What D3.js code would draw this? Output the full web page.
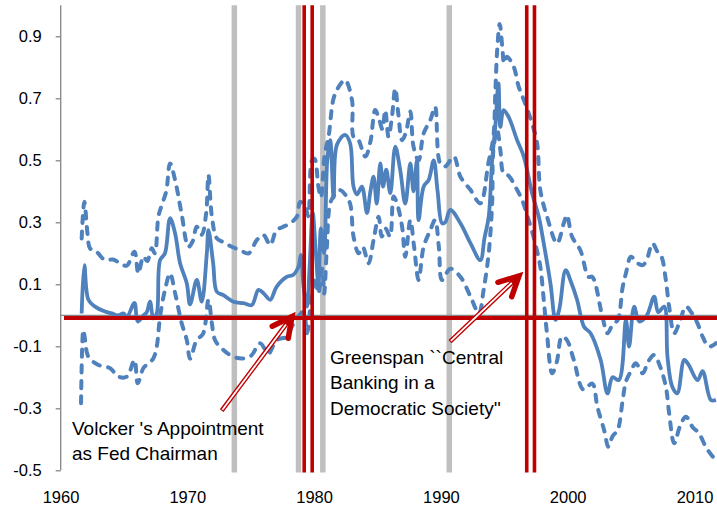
<!DOCTYPE html>
<html><head><meta charset="utf-8">
<script src="https://cdn.jsdelivr.net/npm/d3@7"></script>
<style>
html,body{margin:0;padding:0;background:#fff;}
svg text{font-family:"Liberation Sans",Arial,sans-serif;fill:#000;}
</style></head>
<body><svg id="c" width="717" height="508"></svg>
<script>
// ---- data ----
const yTicks = [-0.5,-0.3,-0.1,0.1,0.3,0.5,0.7,0.9];
const xTicks = [1960,1970,1980,1990,2000,2010];
const recessionBars = [1973.67,1978.73,1980.65,1990.62];
const eventLines = [1979.18,1979.81,1996.73,1997.34];

const midYears = [1961.63,1961.84,1962.16,1962.68,1963.47,1964.0,1964.5,1964.92,1965.2,1965.79,1966.05,1966.5,1966.76,1967.02,1967.28,1967.55,1967.81,1968.2,1968.6,1969.0,1969.39,1969.92,1970.18,1970.71,1971.1,1971.5,1971.63,1972.0,1972.29,1972.81,1973.6,1974.4,1975.05,1975.57,1976.0,1976.5,1977.0,1977.8,1978.3,1978.73,1978.92,1979.13,1979.4,1979.6,1979.85,1980.1,1980.3,1980.5,1980.75,1981.0,1981.23,1981.5,1981.76,1982.4,1982.8,1983.07,1983.35,1983.73,1984.13,1984.4,1984.65,1984.9,1985.18,1985.4,1985.65,1985.97,1986.36,1986.75,1987.15,1987.55,1987.8,1988.07,1988.2,1988.6,1989.0,1989.39,1989.7,1990.05,1990.3,1990.7,1991.5,1992.3,1993.07,1993.4,1993.73,1994.0,1994.25,1994.5,1994.65,1994.9,1995.3,1995.97,1996.5,1997.15,1997.68,1998.07,1998.6,1999.0,1999.3,1999.8,2000.2,2000.7,2001.25,2001.75,2002.56,2003.1,2003.5,2004.0,2004.55,2004.8,2005.2,2005.6,2006.2,2006.78,2007.1,2007.57,2007.83,2008.2,2008.6,2009.15,2009.5,2010.2,2010.6,2011.25,2011.65];
const midValues = [0.006,0.162,0.05,0.028,0.012,0.006,0.0,0.006,-0.005,0.04,-0.02,0.0,0.01,0.044,-0.01,0.006,0.178,0.2,0.313,0.264,0.168,0.103,0.035,0.114,0.044,0.2,0.275,0.168,0.076,0.065,0.044,0.039,0.033,0.082,0.07,0.05,0.092,0.124,0.13,0.157,0.195,0.092,0.028,0.15,0.33,0.2,0.1,0.28,0.2,0.5,0.565,0.38,0.55,0.582,0.555,0.415,0.39,0.415,0.33,0.4,0.447,0.36,0.49,0.415,0.47,0.394,0.544,0.469,0.36,0.49,0.4,0.5,0.307,0.415,0.437,0.5,0.4,0.297,0.3,0.34,0.297,0.232,0.178,0.25,0.318,0.5,0.608,0.748,0.608,0.662,0.64,0.565,0.512,0.394,0.318,0.232,0.103,-0.015,0.02,0.146,0.11,0.05,-0.037,-0.057,-0.144,-0.252,-0.2,-0.209,-0.015,-0.101,0.028,-0.02,0.0,0.06,0.01,0.028,-0.134,-0.23,-0.252,-0.144,-0.16,-0.209,-0.18,-0.273,-0.273];

const upYears = [1961.63,1961.84,1962.1,1962.29,1962.8,1963.47,1964.1,1964.66,1965.19,1965.79,1966.1,1966.5,1966.8,1967.16,1967.4,1967.68,1967.95,1968.3,1968.6,1969.0,1969.5,1970.05,1970.4,1970.7,1971.1,1971.45,1971.63,1971.9,1972.29,1972.8,1973.47,1974.13,1974.8,1975.45,1975.97,1976.5,1977.0,1977.5,1978.07,1978.6,1978.86,1979.26,1979.5,1979.8,1980.0,1980.3,1980.5,1980.8,1981.1,1981.5,1981.9,1982.4,1982.95,1983.07,1983.4,1984.0,1984.4,1984.78,1985.1,1985.35,1985.57,1985.83,1986.1,1986.36,1986.6,1986.9,1987.2,1987.55,1987.8,1988.2,1988.6,1989.13,1989.5,1989.9,1990.3,1990.98,1991.5,1992.3,1993.07,1993.7,1994.1,1994.25,1994.4,1994.6,1994.8,1994.95,1995.17,1995.7,1996.1,1996.6,1997.15,1997.55,1997.8,1998.33,1999.12,1999.65,1999.9,2000.3,2000.96,2001.6,2001.9,2002.7,2003.1,2003.5,2003.9,2004.3,2004.55,2004.95,2005.4,2005.88,2006.2,2006.65,2007.04,2007.35,2007.7,2007.96,2008.36,2008.8,2009.28,2009.7,2010.2,2010.6,2011.1,2011.65];
const upValues = [0.248,0.366,0.26,0.216,0.205,0.178,0.18,0.168,0.16,0.205,0.135,0.19,0.175,0.216,0.2,0.318,0.356,0.4,0.49,0.436,0.33,0.221,0.24,0.286,0.26,0.33,0.453,0.318,0.248,0.236,0.221,0.21,0.2,0.243,0.259,0.227,0.275,0.285,0.297,0.318,0.366,0.35,0.32,0.5,0.505,0.415,0.38,0.52,0.576,0.7,0.737,0.759,0.694,0.576,0.57,0.512,0.56,0.662,0.63,0.6,0.662,0.576,0.64,0.732,0.65,0.565,0.59,0.657,0.544,0.5,0.587,0.63,0.673,0.49,0.48,0.512,0.447,0.404,0.361,0.49,0.576,0.716,0.856,0.94,0.866,0.813,0.834,0.802,0.737,0.684,0.619,0.555,0.404,0.318,0.232,0.297,0.323,0.254,0.21,0.124,0.124,-0.005,-0.058,-0.03,-0.015,0.092,0.135,0.189,0.17,0.162,0.18,0.232,0.205,0.19,0.114,0.028,-0.058,-0.02,0.028,0.01,-0.026,-0.069,-0.101,-0.09];

const lowYears = [1961.58,1961.76,1961.9,1962.16,1962.95,1963.87,1964.53,1965.2,1965.79,1966.05,1966.5,1966.9,1967.28,1967.55,1967.81,1968.2,1968.6,1969.0,1969.52,1969.92,1970.18,1970.7,1971.2,1971.63,1971.9,1972.15,1972.81,1973.6,1974.4,1975.0,1975.7,1976.36,1977.0,1977.8,1978.2,1978.7,1979.13,1979.4,1979.7,1980.05,1980.3,1980.6,1980.75,1980.97,1981.23,1981.6,1982.0,1982.4,1982.8,1983.07,1983.47,1983.8,1984.25,1984.65,1985.05,1985.3,1985.6,1985.95,1986.23,1986.5,1986.9,1987.15,1987.55,1987.85,1988.2,1988.6,1989.13,1989.5,1989.8,1990.05,1990.7,1991.5,1992.3,1992.96,1993.33,1993.73,1994.0,1994.1,1994.4,1994.65,1994.9,1995.3,1995.83,1996.36,1996.88,1997.4,1997.8,1998.07,1998.33,1998.73,1999.1,1999.5,1999.9,2000.44,2001.2,2001.9,2002.3,2002.83,2003.17,2003.5,2003.9,2004.3,2004.55,2004.95,2005.33,2005.88,2006.3,2006.78,2007.2,2007.7,2007.96,2008.36,2008.8,2009.28,2009.8,2010.3,2010.85,2011.4,2011.7];
const lowValues = [-0.284,-0.047,-0.08,-0.134,-0.16,-0.171,-0.198,-0.198,-0.144,-0.219,-0.17,-0.155,-0.139,-0.101,-0.005,0.082,0.135,0.071,-0.026,-0.08,-0.14,-0.08,-0.06,0.05,-0.026,-0.08,-0.112,-0.134,-0.139,-0.13,-0.09,-0.123,-0.08,-0.069,-0.037,-0.005,0.012,-0.058,0.04,0.124,0.07,0.15,0.07,0.221,0.361,0.39,0.404,0.39,0.36,0.254,0.2,0.22,0.168,0.243,0.318,0.254,0.28,0.254,0.383,0.36,0.286,0.189,0.307,0.22,0.114,0.221,0.275,0.307,0.22,0.114,0.15,0.124,0.06,0.006,0.082,0.2,0.361,0.533,0.598,0.533,0.458,0.45,0.415,0.372,0.307,0.232,0.157,0.05,-0.06,-0.187,-0.15,-0.069,-0.08,-0.144,-0.24,-0.22,-0.295,-0.37,-0.424,-0.39,-0.37,-0.273,-0.214,-0.18,-0.155,-0.187,-0.15,-0.128,-0.16,-0.23,-0.316,-0.413,-0.36,-0.327,-0.36,-0.38,-0.424,-0.456,-0.467];

const volckerText = ["Volcker 's Appointment","as Fed Chairman"];
const greenspanText = ["Greenspan ``Central","Banking in a","Democratic Society''"];

// ---- drawing ----
const svg = d3.select("#c");
const x = d3.scaleLinear().domain([1960, 2012.5]).range([61, 726.7]);
const y = d3.scaleLinear().domain([-0.5, 1.0]).range([470.3, 5.3]);
const BLUE = "#4F81BD", RED = "#C00000", GRAY = "#BFBFBF", AX = "#868686";

// recession bars
svg.append("g").selectAll("line").data(recessionBars).join("line")
  .attr("x1", d => x(d)).attr("x2", d => x(d))
  .attr("y1", y(1.0)).attr("y2", 472.5)
  .attr("stroke", GRAY).attr("stroke-width", 5.5);

// y axis
const yAxis = d3.axisLeft(y).tickValues(yTicks).tickSize(5).tickPadding(14)
  .tickFormat(d => d3.format(".1f")(d).replace("−","-"));
const gy = svg.append("g").attr("transform", "translate(60.7,0)").call(yAxis);
gy.select(".domain").attr("stroke", AX).attr("stroke-width", 1.3).attr("d", `M0,${y(1.0)}V${y(-0.5)}`);
gy.selectAll(".tick line").attr("stroke", AX).attr("stroke-width", 1.3);
gy.selectAll(".tick text").attr("font-size", "16.5px").attr("font-family", "Liberation Sans, Arial, sans-serif").attr("fill", "#000");

// x axis at zero
svg.append("line").attr("x1", x(1960)).attr("x2", 717).attr("y1", y(0)).attr("y2", y(0))
  .attr("stroke", AX).attr("stroke-width", 1.3);
// x labels at bottom
svg.append("g").selectAll("text").data(xTicks).join("text")
  .attr("x", d => x(d)).attr("y", 502.5).attr("text-anchor", "middle")
  .attr("font-size", "16.5px").text(d => d);

// series
const line = d3.line().x(d => x(d[0])).y(d => y(d[1])).curve(d3.curveCatmullRom.alpha(0.5));
const zip = (a, b) => a.map((v, i) => [v, b[i]]);
svg.append("path").datum(zip(upYears, upValues)).attr("d", line)
  .attr("fill", "none").attr("stroke", BLUE).attr("stroke-width", 4)
  .attr("stroke-linecap", "round").attr("stroke-dasharray", "7,8.5");
svg.append("path").datum(zip(lowYears, lowValues)).attr("d", line)
  .attr("fill", "none").attr("stroke", BLUE).attr("stroke-width", 4)
  .attr("stroke-linecap", "round").attr("stroke-dasharray", "7,8.5");
svg.append("path").datum(zip(midYears, midValues)).attr("d", line)
  .attr("fill", "none").attr("stroke", BLUE).attr("stroke-width", 3.8)
  .attr("stroke-linejoin", "round");

// red event lines
svg.append("g").selectAll("line").data(eventLines).join("line")
  .attr("x1", d => x(d)).attr("x2", d => x(d))
  .attr("y1", y(1.0)).attr("y2", 472.5)
  .attr("stroke", RED).attr("stroke-width", 3.6);

// red horizontal line
svg.append("line").attr("x1", 64).attr("x2", 717).attr("y1", 318).attr("y2", 318)
  .attr("stroke", RED).attr("stroke-width", 4.2);

// arrows
function arrow(x0, y0, x1, y1) {
  const g = svg.append("g");
  const dx = x1 - x0, dy = y1 - y0, L = Math.hypot(dx, dy);
  const ux = dx / L, uy = dy / L;
  const ex = x1 - ux * 4, ey = y1 - uy * 4;
  g.append("line").attr("x1", x0).attr("y1", y0).attr("x2", ex).attr("y2", ey)
    .attr("stroke", RED).attr("stroke-width", 4.6);
  g.append("line").attr("x1", x0 + ux * 1.2).attr("y1", y0 + uy * 1.2).attr("x2", ex - ux * 6).attr("y2", ey - uy * 6)
    .attr("stroke", "#fff").attr("stroke-width", 1.8);
  const ang = Math.atan2(-uy, -ux), a = 27 * Math.PI / 180, len = 22;
  const p1 = [x1 + len * Math.cos(ang + a), y1 + len * Math.sin(ang + a)];
  const p2 = [x1 + len * Math.cos(ang - a), y1 + len * Math.sin(ang - a)];
  g.append("path").attr("d", `M${p1[0]},${p1[1]}L${x1},${y1}L${p2[0]},${p2[1]}`)
    .attr("fill", "none").attr("stroke", RED).attr("stroke-width", 5.5)
    .attr("stroke-linejoin", "miter").attr("stroke-linecap", "round");
}
arrow(221.7, 410.7, 292, 316.5);
arrow(450, 341.7, 519, 276);

// annotation text
svg.append("g").selectAll("text").data(volckerText).join("text")
  .attr("x", 72).attr("y", (d, i) => 435 + i * 25).attr("font-size", "19px").text(d => d);
svg.append("g").selectAll("text").data(greenspanText).join("text")
  .attr("x", 330).attr("y", (d, i) => 363.5 + i * 25.5).attr("font-size", "19px").text(d => d);
</script></body></html>
